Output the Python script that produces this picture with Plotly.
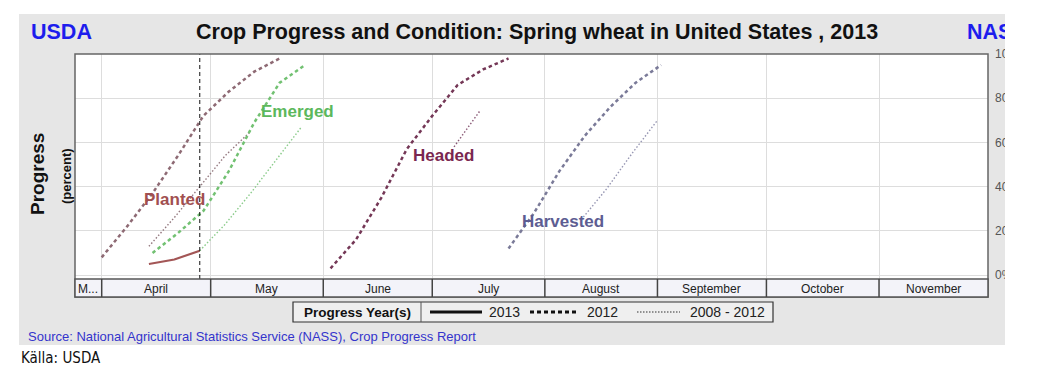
import plotly.graph_objects as go
import pandas as pd

# ---------------- data ----------------
X_RANGE = ["2013-03-24 15:36", "2013-12-01"]
CURRENT_WEEK = "2013-04-28"

MONTH_STARTS = ["2013-04-01", "2013-05-01", "2013-06-01", "2013-07-01", "2013-08-01",
                "2013-09-01", "2013-10-01", "2013-11-01", "2013-12-01"]
MONTH_LABELS = ["April", "May", "June", "July", "August", "September", "October", "November"]
FIRST_MONTH_LABEL = "M..."

Y_TICKS = [0, 20, 40, 60, 80, 100]
Y_TICK_TEXT = ["0%", "20%", "40%", "60%", "80%", "100%"]

PLANTED_2013_DATES = ["2013-04-14", "2013-04-21", "2013-04-28"]
PLANTED_2013 = [5, 7, 11]
PLANTED_2012_DATES = ["2013-04-01", "2013-04-08", "2013-04-15", "2013-04-22", "2013-04-29",
                      "2013-05-06", "2013-05-13", "2013-05-20"]
PLANTED_2012 = [8, 22, 37, 54, 72, 83, 92, 98]
PLANTED_AVG_DATES = ["2013-04-14", "2013-04-21", "2013-04-28", "2013-05-05", "2013-05-12"]
PLANTED_AVG = [13, 26, 40, 54, 65]

EMERGED_2012_DATES = ["2013-04-15", "2013-04-22", "2013-04-29", "2013-05-06", "2013-05-13",
                      "2013-05-20", "2013-05-27"]
EMERGED_2012 = [10, 19, 29, 47, 69, 87, 95]
EMERGED_AVG_DATES = ["2013-04-28", "2013-05-05", "2013-05-12", "2013-05-19", "2013-05-26"]
EMERGED_AVG = [11, 23, 37, 52, 67]

HEADED_2012_DATES = ["2013-06-03", "2013-06-10", "2013-06-17", "2013-06-24", "2013-07-01",
                     "2013-07-08", "2013-07-15", "2013-07-22"]
HEADED_2012 = [3, 16, 35, 57, 72, 86, 93, 98]
HEADED_AVG_DATES = ["2013-07-07", "2013-07-14"]
HEADED_AVG = [58, 74]

HARVESTED_2012_DATES = ["2013-07-22", "2013-07-29", "2013-08-05", "2013-08-12", "2013-08-19",
                        "2013-08-26", "2013-09-02"]
HARVESTED_2012 = [12, 28, 47, 63, 76, 87, 95]
HARVESTED_AVG_DATES = ["2013-08-11", "2013-08-18", "2013-08-25", "2013-09-01"]
HARVESTED_AVG = [25, 39, 55, 70]

LABELS = ["Planted", "Emerged", "Headed", "Harvested"]
LABEL_X = ["2013-04-21", "2013-05-25", "2013-07-04", "2013-08-06"]
LABEL_Y = [34, 74, 54, 24]
LABEL_COLORS = ["#a14f50", "#5cb85c", "#7a2750", "#5d5d92"]

LEGEND_TITLE = "Progress Year(s)"
LEGEND_ITEMS = ["2013", "2012", "2008 - 2012"]

TITLE = "Crop Progress and Condition: Spring wheat in United States , 2013"
SOURCE = "Source: National Agricultural Statistics Service (NASS), Crop Progress Report"
CREDIT = "Källa: USDA"

# ---------------- figure ----------------
# page offset (the html body has an 8px margin)
OFF = 8
PAGE_RIGHT = 1005            # right edge of the gray panel on the page
L, R, T, B = 75, 988, 54, 279  # plot area in page pixels
PW, PH = R - L, B - T
W, H = PAGE_RIGHT - OFF, 377 - OFF


def px(x):
    return (x - L) / PW


def py(y):
    return (B - y) / PH


FONT = "Liberation Sans, Arial, sans-serif"

fig = go.Figure()

SOLID = dict(width=2.2)
DASH = dict(width=2.5, dash="3.5px,3px")
DOT = dict(width=1.4, dash="1.5px,2px")

series = [
    (PLANTED_2013_DATES, PLANTED_2013, "#a35656", SOLID),
    (PLANTED_2012_DATES, PLANTED_2012, "#8e6a74", DASH),
    (PLANTED_AVG_DATES, PLANTED_AVG, "#957a80", DOT),
    (EMERGED_2012_DATES, EMERGED_2012, "#72c172", DASH),
    (EMERGED_AVG_DATES, EMERGED_AVG, "#8acb8a", DOT),
    (HEADED_2012_DATES, HEADED_2012, "#743756", DASH),
    (HEADED_AVG_DATES, HEADED_AVG, "#8a5a76", DOT),
    (HARVESTED_2012_DATES, HARVESTED_2012, "#7a7a98", DASH),
    (HARVESTED_AVG_DATES, HARVESTED_AVG, "#9797b3", DOT),
]
for xs, ys, col, st in series:
    fig.add_trace(go.Scatter(x=xs, y=ys, mode="lines", line=dict(color=col, **st),
                             showlegend=False, hoverinfo="skip"))

shapes = []
# gray panel background
shapes.append(dict(type="rect", xref="paper", yref="paper", x0=px(19), x1=1.2,
                   y0=py(345), y1=py(14), fillcolor="#e6e6e6", line=dict(width=0), layer="below"))
# plot area white
shapes.append(dict(type="rect", xref="paper", yref="paper", x0=0, x1=1, y0=0, y1=1,
                   fillcolor="white", line=dict(width=0), layer="below"))
# current week
shapes.append(dict(type="line", xref="x", yref="paper", x0=CURRENT_WEEK, x1=CURRENT_WEEK,
                   y0=0, y1=1, line=dict(color="#111111", width=1, dash="4px,3px"), layer="above"))
# plot border
shapes.append(dict(type="rect", xref="paper", yref="paper", x0=0, x1=1, y0=py(297), y1=1,
                   line=dict(color="#666666", width=1.5), layer="above"))
# month band
shapes.append(dict(type="rect", xref="paper", yref="paper", x0=0, x1=1, y0=py(297), y1=0,
                   fillcolor="#f3f3f9", line=dict(color="#555555", width=1.5), layer="above"))
for m in MONTH_STARTS[:-1]:
    shapes.append(dict(type="line", xref="x", yref="paper", x0=m, x1=m, y0=py(297), y1=0,
                       line=dict(color="#444444", width=1.5), layer="above"))

# legend box
shapes.append(dict(type="rect", xref="paper", yref="paper", x0=px(293), x1=px(773),
                   y0=py(322), y1=py(302), fillcolor="#efefef",
                   line=dict(color="#333333", width=1.2), layer="above"))
shapes.append(dict(type="line", xref="paper", yref="paper", x0=px(421), x1=px(421),
                   y0=py(322), y1=py(302), line=dict(color="#555555", width=1), layer="above"))
ly = py(312)
shapes.append(dict(type="line", xref="paper", yref="paper", x0=px(430), x1=px(482), y0=ly, y1=ly,
                   line=dict(color="#111111", width=3), layer="above"))
shapes.append(dict(type="line", xref="paper", yref="paper", x0=px(530), x1=px(578), y0=ly, y1=ly,
                   line=dict(color="#111111", width=3, dash="4px,3px"), layer="above"))
shapes.append(dict(type="line", xref="paper", yref="paper", x0=px(637), x1=px(680), y0=ly, y1=ly,
                   line=dict(color="#333333", width=1.2, dash="1.5px,1.5px"), layer="above"))

fig.update_layout(shapes=shapes)

ann = []
ann.append(dict(xref="paper", yref="paper", x=px(537), y=py(32), text="<b>" + TITLE + "</b>",
                showarrow=False, font=dict(family=FONT, size=21.5, color="#111111"),
                xanchor="center", yanchor="middle"))
ann.append(dict(xref="paper", yref="paper", x=px(29), y=py(32), text="<b>USDA</b>",
                showarrow=False, font=dict(family=FONT, size=21.5, color="#1d1ded"),
                xanchor="left", yanchor="middle"))
ann.append(dict(xref="paper", yref="paper", x=px(965), y=py(32), text="<b>NASS</b>",
                showarrow=False, font=dict(family=FONT, size=21.5, color="#1d1ded"),
                xanchor="left", yanchor="middle"))
ann.append(dict(xref="paper", yref="paper", x=px(37), y=py(174), text="<b>Progress</b>",
                showarrow=False, textangle=-90, font=dict(family=FONT, size=19, color="#111111"),
                xanchor="center", yanchor="middle"))
ann.append(dict(xref="paper", yref="paper", x=px(66), y=py(176), text="<b>(percent)</b>",
                showarrow=False, textangle=-90, font=dict(family=FONT, size=13, color="#111111"),
                xanchor="center", yanchor="middle"))

# month labels
starts = pd.to_datetime(MONTH_STARTS)
for i, lab in enumerate(MONTH_LABELS):
    mid = starts[i] + (starts[i + 1] - starts[i]) / 2
    ann.append(dict(xref="x", yref="paper", x=mid, y=py(289), text=lab, showarrow=False,
                    font=dict(family=FONT, size=12, color="#222222"),
                    xanchor="center", yanchor="middle"))
first_mid = pd.to_datetime(X_RANGE[0]) + (starts[0] - pd.to_datetime(X_RANGE[0])) / 2
ann.append(dict(xref="x", yref="paper", x=first_mid, y=py(289), text=FIRST_MONTH_LABEL,
                showarrow=False, font=dict(family=FONT, size=12, color="#222222"),
                xanchor="center", yanchor="middle"))

# series labels
for lab, lx, lyv, col in zip(LABELS, LABEL_X, LABEL_Y, LABEL_COLORS):
    ann.append(dict(xref="x", yref="y", x=lx, y=lyv, text="<b>" + lab + "</b>", showarrow=False,
                    font=dict(family=FONT, size=17, color=col), xanchor="center", yanchor="middle"))

# legend texts
ann.append(dict(xref="paper", yref="paper", x=px(357), y=py(312), text="<b>" + LEGEND_TITLE + "</b>",
                showarrow=False, font=dict(family=FONT, size=13.5, color="#111111"),
                xanchor="center", yanchor="middle"))
for lab, xl in zip(LEGEND_ITEMS, [487, 585, 688]):
    ann.append(dict(xref="paper", yref="paper", x=px(xl), y=py(312), text=lab, showarrow=False,
                    font=dict(family=FONT, size=14, color="#222222"),
                    xanchor="left", yanchor="middle"))

ann.append(dict(xref="paper", yref="paper", x=px(26), y=py(336), text=SOURCE, showarrow=False,
                font=dict(family=FONT, size=13, color="#3434cc"), xanchor="left", yanchor="middle"))
ann.append(dict(xref="paper", yref="paper", x=px(19), y=py(358), text=CREDIT, showarrow=False,
                font=dict(family="Liberation Sans Narrow, Arial Narrow, DejaVu Sans Condensed, sans-serif",
                          size=15, color="#111111"), xanchor="left", yanchor="middle"))

fig.update_layout(
    annotations=ann,
    width=W, height=H,
    margin=dict(l=L - OFF, r=PAGE_RIGHT - R, t=T - OFF, b=377 - B, pad=0, autoexpand=False),
    paper_bgcolor="white",
    plot_bgcolor="white",
    showlegend=False,
    xaxis=dict(type="date", range=X_RANGE, tickvals=MONTH_STARTS, showticklabels=False,
               showgrid=True, gridcolor="#dddddd", gridwidth=1, zeroline=False, showline=False,
               ticks="", automargin=False),
    yaxis=dict(range=[-1.8, 100], side="right", tickvals=Y_TICKS, ticktext=Y_TICK_TEXT,
               showgrid=True, gridcolor="#dddddd", gridwidth=1, zeroline=False, showline=False,
               ticks="", ticklabelstandoff=6, automargin=False,
               tickfont=dict(family=FONT, size=12, color="#555555")),
)

fig.write_html("out.html")
